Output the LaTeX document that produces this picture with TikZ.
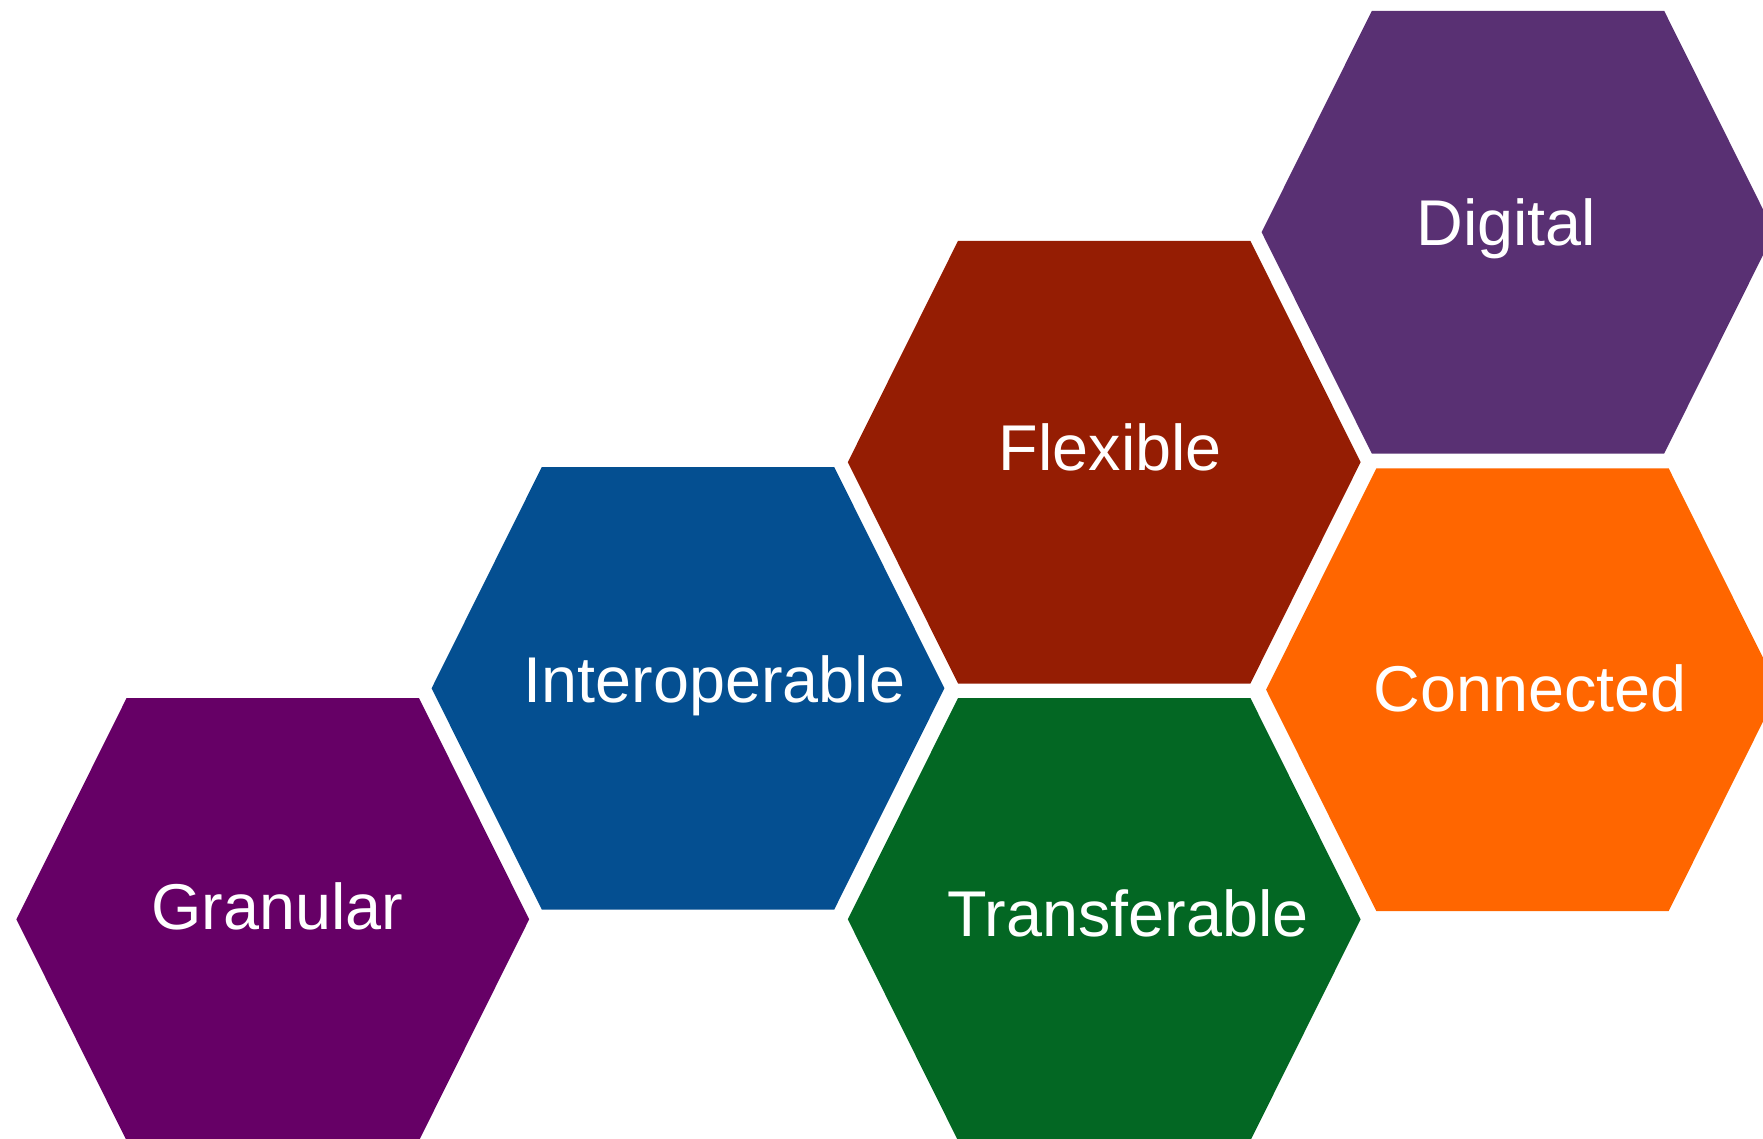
\documentclass[tikz,border=0pt]{standalone}
\usepackage{fontspec}
\setmainfont{Liberation Sans}
\usetikzlibrary{calc}

\definecolor{granularcol}{RGB}{102,0,102}
\definecolor{interopcol}{RGB}{4,79,145}
\definecolor{flexiblecol}{RGB}{149,29,3}
\definecolor{transfercol}{RGB}{3,103,35}
\definecolor{digitalcol}{RGB}{89,48,115}
\definecolor{connectcol}{RGB}{255,102,0}

% hexagon: centre x, centre y, colour
\newcommand{\hexcell}[3]{%
  \fill[#3] (#1-256.4,#2) -- (#1-146.2,#2-221.3) -- (#1+146.2,#2-221.3) -- (#1+256.4,#2)
    -- (#1+146.2,#2+221.3) -- (#1-146.2,#2+221.3) -- cycle;}

\tikzset{celltext/.style={text=white,anchor=base,inner sep=0pt,
  font=\fontsize{18.4}{22}\selectfont}}

\begin{document}
\begin{tikzpicture}[x=0.01cm,y=-0.01cm]
      \useasboundingbox (0,0) rectangle (1763,1139);
      \hexcell{272.8}{919.3}{granularcol}
      \hexcell{688}{688.3}{interopcol}
      \hexcell{1104.2}{462.2}{flexiblecol}
      \hexcell{1104.2}{919.3}{transfercol}
      \hexcell{1518}{232.2}{digitalcol}
      \hexcell{1522.5}{689.7}{connectcol}
      \node[celltext] (granular) at (277.1,929.3) {Granular};
      \node[celltext] (interop) at (714.6,702.3) {Interoperable};
      \node[celltext] (flexible) at (1110.3,470) {Flexible};
      \node[celltext] (transfer) at (1128,936.7) {Transferable};
      \node[celltext] (digital) at (1506.3,245) {Digital};
      \node[celltext] (connect) at (1530.3,711) {Connected};
    \end{tikzpicture}
\end{document}
